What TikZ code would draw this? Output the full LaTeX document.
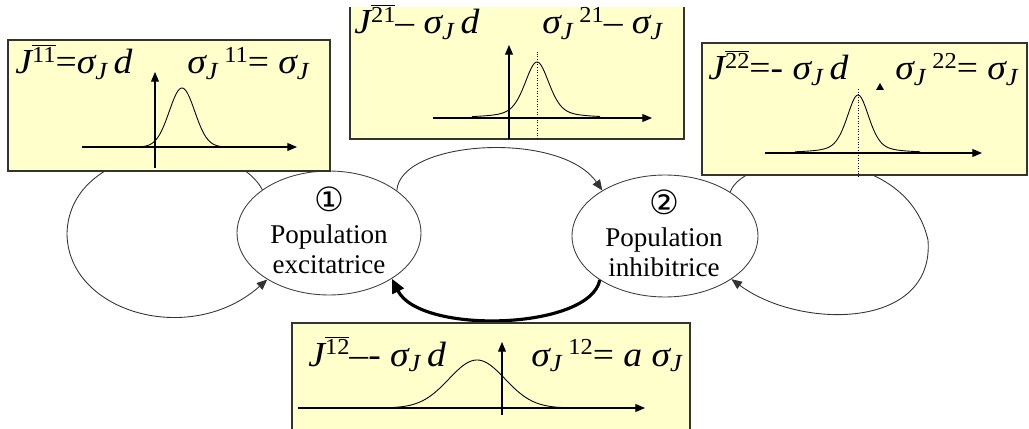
\documentclass[tikz,border=0pt]{standalone}
\usepackage{fontspec}
\setmainfont{Liberation Serif}
\newfontfamily\dejavu{DejaVu Sans}
\newfontfamily\formfont[FakeStretch=1.07]{Liberation Serif}
\usetikzlibrary{arrows.meta,shapes.geometric}
\definecolor{panelfill}{HTML}{FFFFCC}
\newcommand\up[1]{\raisebox{0.32em}{\fontsize{13}{13}\selectfont #1}}
\newcommand\Jb[1]{{\itshape J}\up{$\overline{\hbox{#1}}$}}
\newcommand\sJ{{\itshape σ}\textsubscript{\itshape J}}
\tikzset{
 x=0.02cm, y=-0.02cm,
 panel/.style={draw=black!80, fill=panelfill, line width=0.6pt},
 pop/.style={ellipse, draw=black!75, line width=0.5pt, minimum width=3.68cm, minimum height=2.48cm, inner sep=0pt},
 poptext/.style={align=center, inner sep=0pt, font=\fontsize{15.4}{17}\selectfont},
 link/.style={draw=black!80, line width=0.5pt, -{Triangle[length=6pt,width=5pt]}},
 strong/.style={draw=black, line width=1.8pt, -{Triangle[length=8pt,width=7pt]}},
 axis/.style={line width=0.6pt, -{Triangle[length=5.5pt,width=4.5pt]}},
 curve/.style={line width=0.5pt},
 guide/.style={densely dotted, line width=0.5pt},
 formula/.style={anchor=base west, inner sep=0pt, font=\formfont\fontsize{20}{22}\selectfont},
 circnum/.style={font=\dejavu\fontsize{19}{19}\selectfont, inner sep=0pt},
}
\begin{document}
\begin{tikzpicture}
\useasboundingbox (0,0) rectangle (1029,429);
% populations
\node[pop] (e1) at (329,233) {};
\node[pop, minimum width=3.72cm, minimum height=2.44cm] (e2) at (665,236) {};
% connectors
\draw[link] (e1.147) .. controls (230,130) and (70,140) .. (67,233)
            .. controls (67,312) and (190,348) .. (e1.217);
\draw[link] (e2.34) .. controls (745,150) and (905,140) .. (928,240)
            .. controls (935,330) and (800,330) .. (e2.327);
\draw[link] (e1.32) .. controls (400,140) and (560,130) .. (e2.144);
\draw[strong] (e2.214) .. controls (590,330) and (420,335) .. (e1.324);
% panel 1
\draw[panel] (8,40) rectangle (330,171);
\node[formula] (f1a) at (15,74) {\Jb{11}=\sJ\,{\itshape d}};
\node[formula] (f1b) at (187,74) {\sJ\,\up{11}= \sJ};
\draw[axis] (82,147) -- (297,147);
\draw[axis] (155,168) -- (155,72);
\draw[curve] plot[domain=132:235, samples=90, smooth] (\x, {147-59*exp(-0.5*((\x-182)/12.7)^2)});
% panel 2 (top edge cut by the picture's border)
\fill[panelfill] (350,7) rectangle (684,139);
\draw[panel, fill=none] (350,7) -- (350,139) -- (684,139) -- (684,7);
\node[formula] (f2a) at (354,34) {\Jb{21}– \sJ\,{\itshape d}};
\node[formula] (f2b) at (542,34) {\sJ\,\up{21}– \sJ};
\draw[axis] (433,118) -- (652,118);
\draw[axis] (509,139) -- (509,45);
\draw[guide] (537,139) -- (537,52);
\draw[curve] plot[domain=472:600, samples=120, smooth] (\x, {118-56*(0.55*exp(-0.5*((\x-537)/12)^2)+0.45/(1+((\x-537)/16)^2))});
% panel 3
\draw[panel] (702,43) rectangle (1027,175);
\node[formula] (f3a) at (708,80) {\Jb{22}=- \sJ\,{\itshape d}};
\node[formula] (f3b) at (895,80) {\sJ\,\up{22}= \sJ};
\draw[axis] (765,153) -- (982,153);
\draw[guide] (858,177) -- (858,88);
\fill (876,90) -- (884,90) -- (880,83) -- cycle;
\draw[curve] plot[domain=795:920, samples=120, smooth] (\x, {153-58*(0.55*exp(-0.5*((\x-858)/11)^2)+0.45/(1+((\x-858)/14)^2))});
% panel 4
\draw[panel] (292,323) rectangle (690,435);
\node[formula] (f4a) at (308,366) {\Jb{12}–- \sJ\,{\itshape d}};
\node[formula] (f4b) at (531,366) {\sJ\,\up{12}= {\itshape a} \sJ};
\draw[axis] (298,408) -- (645,408);
\draw[axis] (502,415) -- (502,342);
\draw[curve] plot[domain=345:595, samples=120, smooth] (\x, {408-48*exp(-0.5*((\x-477)/28)^2)});
% population labels
\node[circnum] (n1) at (329,199) {①};
\node[poptext] (t1) at (329,249) {Population\\excitatrice};
\node[circnum] (n2) at (664,202) {②};
\node[poptext] (t2) at (664,252) {Population\\inhibitrice};
\end{tikzpicture}
\end{document}
